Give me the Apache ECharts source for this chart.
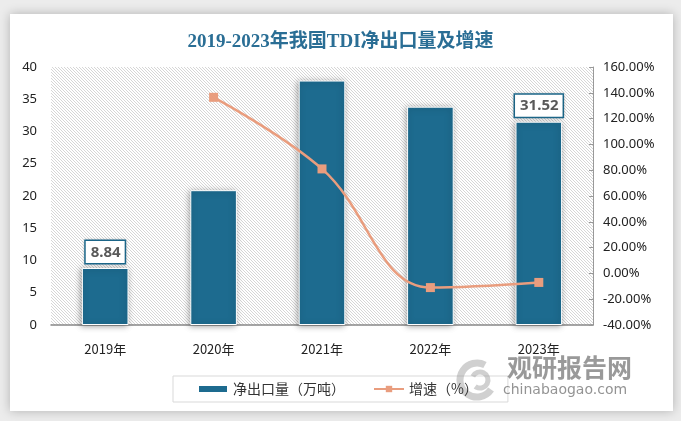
<!DOCTYPE html>
<html><head><meta charset="utf-8">
<script src="https://cdn.jsdelivr.net/npm/echarts@6/dist/echarts.min.js"></script>
<style>html,body{margin:0;padding:0;background:#ececec;}#c{width:681px;height:421px;}</style>
</head><body><div id="c"></div>
<script>
const categories = ['2019年','2020年','2021年','2022年','2023年'];
const exportVolume = [8.84, 20.9, 37.9, 33.85, 31.52];
const growthRate = [null, 136.5, 81, -11, -7];
const labeledIdx = [0, 4];
const leftTicks = {min:0, max:40, interval:5};
const rightTicks = {min:-40, max:160, interval:20};

const tile = document.createElement('canvas');
tile.width = 3; tile.height = 3;
const tc = tile.getContext('2d');
tc.fillStyle = '#ffffff'; tc.fillRect(0,0,3,3);
tc.fillStyle = '#d6d6d6';
for (let i=0;i<3;i++) tc.fillRect(i,i,1,1);

const chart = echarts.init(document.getElementById('c'), null, {renderer:'canvas'});
const blue = '#1d6b8f', salmon = '#e99d7e';
chart.setOption({
  animation:false,
  backgroundColor:'#ececec',
  graphic:[
    {type:'rect', z:-10, shape:{x:10,y:14,width:663,height:397},
     style:{fill:'#ffffff', shadowBlur:10, shadowColor:'rgba(0,0,0,0.25)'}},
    {type:'arc', z:4, shape:{cx:477,cy:380,r:17,startAngle:0.6,endAngle:5.2},
     style:{fill:'none', stroke:'rgba(150,150,150,0.45)', lineWidth:7}},
    {type:'arc', z:4, shape:{cx:480,cy:380,r:8,startAngle:3.6,endAngle:8.5},
     style:{fill:'none', stroke:'rgba(150,150,150,0.45)', lineWidth:5}},
    {type:'text', z:5, left:507, top:355, style:{text:'观研报告网', fontSize:25, fontWeight:'bold',
      fill:'rgba(128,128,128,0.8)', fontFamily:'Noto Sans CJK SC'}},
    {type:'text', z:5, left:503, top:383, style:{text:'chinabaogao.com', fontSize:14,
      fill:'rgba(120,120,120,0.8)', fontFamily:'DejaVu Sans'}}
  ],
  title:{text:'2019-2023年我国TDI净出口量及增速', left:'center', top:28,
    textStyle:{color:'#2a6e95', fontSize:19, fontWeight:'bold', fontFamily:'Liberation Serif, Noto Sans CJK SC'}},
  grid:{left:51, right:88, top:67, bottom:96, show:true, borderWidth:0,
    backgroundColor:{image:tile, repeat:'repeat'}},
  legend:{bottom:19, left:173, width:330, height:28, itemGap:28, padding:[6,30,6,24],
    borderColor:'#d9d9d9', borderWidth:1, borderRadius:0, itemWidth:30, itemHeight:8,
    textStyle:{fontSize:14, color:'#333', fontFamily:'Noto Sans CJK SC'},
    data:[{name:'净出口量（万吨）', icon:'rect'}, {name:'增速（%）'}]},
  xAxis:{type:'category', data:categories,
    axisLine:{lineStyle:{color:'#888', width:1.5}}, axisTick:{show:false},
    axisLabel:{fontSize:13, color:'#222', margin:18, fontFamily:'Noto Sans CJK SC'}},
  yAxis:[
    {type:'value', min:leftTicks.min, max:leftTicks.max, interval:leftTicks.interval,
     splitLine:{show:false}, axisLine:{show:false}, axisTick:{show:false},
     axisLabel:{fontSize:13, color:'#222', margin:14, fontFamily:'Noto Sans'}},
    {type:'value', min:rightTicks.min, max:rightTicks.max, interval:rightTicks.interval,
     splitLine:{show:false}, axisLine:{show:true, lineStyle:{color:'#999'}},
     axisTick:{show:true, inside:true, length:4, lineStyle:{color:'#999'}},
     axisLabel:{fontSize:13, color:'#222', margin:10, fontFamily:'Noto Sans',
       formatter:v=>v.toFixed(2)+'%'}}
  ],
  series:[
    {name:'净出口量（万吨）', type:'bar', barWidth:'43%', yAxisIndex:0,
     data:exportVolume.map((v,i)=>({value:v,
       label:{show:labeledIdx.includes(i), position:'top', distance:5,
         formatter:p=>p.value.toFixed(2), fontSize:15, fontWeight:'bold', color:'#595959',
         backgroundColor:'#fff', borderColor:blue, borderWidth:1.5, padding:[4,4,3,5],
         fontFamily:'Noto Sans', shadowBlur:3, shadowColor:'rgba(0,0,0,0.2)'}})),
     itemStyle:{color:blue, borderColor:'#fff', borderWidth:1,
       shadowBlur:6, shadowColor:'rgba(0,0,0,0.35)', shadowOffsetX:-1, shadowOffsetY:1}},
    {name:'增速（%）', type:'line', yAxisIndex:1, data:growthRate, smooth:0.4,
     symbol:'rect', symbolSize:9, connectNulls:false,
     lineStyle:{color:salmon, width:2.5}, itemStyle:{color:salmon}}
  ]
});
</script></body></html>
